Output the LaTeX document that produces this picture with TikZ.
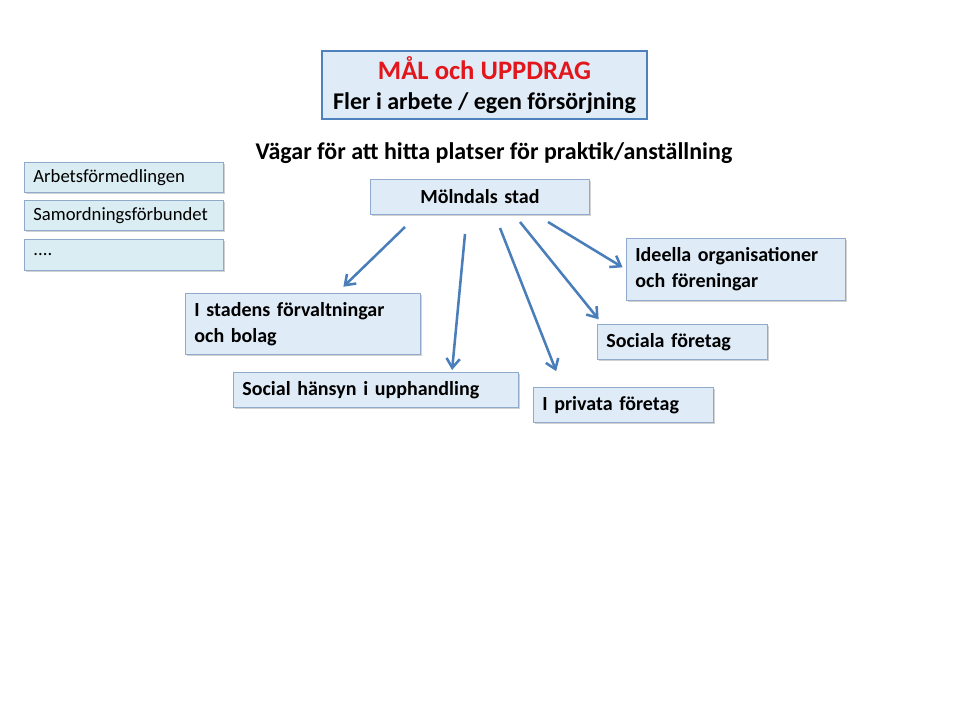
\documentclass[tikz,border=0pt]{standalone}
\usepackage{fontspec}
\setmainfont{Carlito}
\usetikzlibrary{arrows.meta,shadows}
\definecolor{boxfill}{HTML}{DFEBF7}
\definecolor{sidefill}{HTML}{DAEDF3}
\definecolor{boxline}{HTML}{8FAACB}
\definecolor{titleline}{HTML}{4F81BD}
\definecolor{arrowblue}{HTML}{4A7EBB}
\definecolor{goalred}{HTML}{E3161C}
\newcommand{\px}[1]{#1*0.75pt}
\tikzset{
  infobox/.style={draw=boxline, fill=boxfill, line width=0.6pt, anchor=north west,
    inner xsep=\px{9}, inner ysep=0pt, align=left,
    drop shadow={shadow xshift=1.2pt, shadow yshift=-1.5pt, opacity=0.35}},
  sidebox/.style={infobox, fill=sidefill, font=\fontsize{14}{16}\selectfont},
  waybox/.style={infobox, font=\bfseries\fontsize{15}{19.5}\selectfont},
  wayarrow/.style={draw=arrowblue, line width=1.9pt, -{Straight Barb[length=7pt,width=10pt]}}
}
\begin{document}
\begin{tikzpicture}[x=0.75pt, y=-0.75pt]
        \useasboundingbox[fill=white] (0,0) rectangle (960,720);
        % mål och uppdrag
        \node[draw=titleline, fill=boxfill, line width=1.5pt, anchor=north west, inner sep=0pt,
              minimum width=\px{325}, minimum height=\px{68}, align=center,
              font=\bfseries\fontsize{18}{22}\selectfont] (goal) at (321,50)
              {\textcolor{goalred}{\fontsize{20}{22}\selectfont MÅL och UPPDRAG}\\Fler i arbete / egen försörjning};
        \node[font=\bfseries\fontsize{18}{20}\selectfont] (ways) at (494,153)
              {Vägar för att hitta platser för praktik/anställning};
        % samarbetspartner
        \node[sidebox, minimum width=\px{199}, minimum height=\px{30}, text width=\px{181}] (af) at (24,162) {Arbetsförmedlingen};
        \node[sidebox, minimum width=\px{199}, minimum height=\px{30}, text width=\px{181}] (samf) at (24,200) {Samordningsförbundet};
        \node[sidebox, minimum width=\px{199}, minimum height=\px{31}, text width=\px{181}] (more) at (24,239) {....};
        % vägar
        \node[waybox, minimum width=\px{219}, minimum height=\px{35}, text width=\px{201}, align=center] (moln) at (370,179) {Mölndals stad};
        \node[waybox, minimum width=\px{235}, minimum height=\px{61}, text width=\px{217}] (stadens) at (185,293) {I stadens förvaltningar\\och bolag};
        \node[waybox, minimum width=\px{285}, minimum height=\px{35}, text width=\px{267}] (hansyn) at (233,372) {Social hänsyn i upphandling};
        \node[waybox, minimum width=\px{180}, minimum height=\px{35}, text width=\px{162}] (privata) at (533,387) {I privata företag};
        \node[waybox, minimum width=\px{170}, minimum height=\px{35}, text width=\px{152}] (sociala) at (597,324) {Sociala företag};
        \node[waybox, minimum width=\px{219}, minimum height=\px{62}, text width=\px{201}] (ideella) at (626,238) {Ideella organisationer\\och föreningar};
        % pilar
        \coordinate (s1) at (405,227);
        \coordinate (s2) at (465,234);
        \coordinate (s3) at (500,228);
        \coordinate (s4) at (520,222);
        \coordinate (s5) at (548,222);
        \draw[wayarrow, shorten >=\px{9}] (s1) -- ([xshift=\px{34}]stadens.north);
        \draw[wayarrow, shorten >=\px{2}] (s2) -- ([xshift=\px{76}]hansyn.north);
        \draw[wayarrow, shorten >=\px{17}] (s3) -- ([xshift=\px{-61}]privata.north);
        \draw[wayarrow, shorten >=\px{6}] (s4) -- ([xshift=\px{-80}]sociala.north);
        \draw[wayarrow, shorten >=\px{4}] (s5) -- (ideella.west);
    \end{tikzpicture}
\end{document}
